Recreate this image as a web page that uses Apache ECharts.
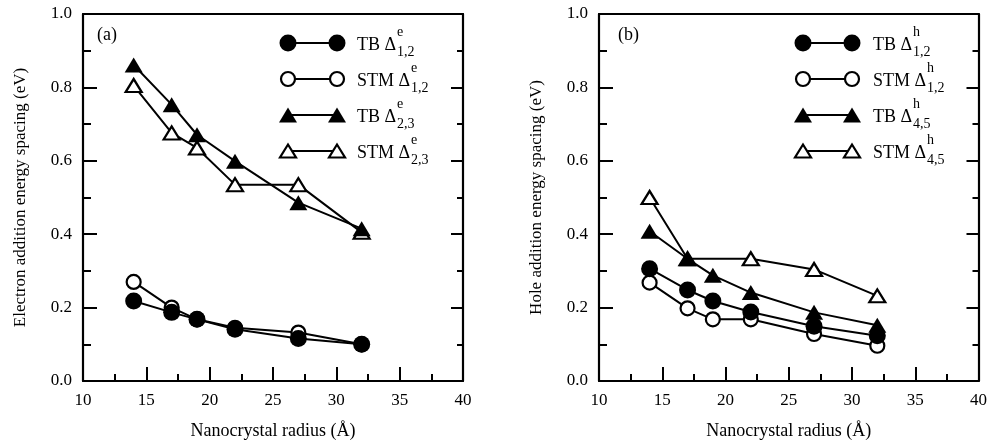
<!DOCTYPE html>
<html><head><meta charset="utf-8">
<script src="https://cdn.jsdelivr.net/npm/echarts@6/dist/echarts.min.js"></script>
<style>html,body{margin:0;padding:0;background:#fff}#c{width:990px;height:445px}</style>
</head><body><div id="c"></div>
<script>
// ---- data ----
const radii = [14, 17, 19, 22, 27, 32];
const tbE12  = [0.218, 0.187, 0.168, 0.141, 0.116, 0.100];
const stmE12 = [0.270, 0.200, 0.168, 0.145, 0.132, 0.100];
const tbE23  = [0.861, 0.753, 0.671, 0.599, 0.486, 0.415];
const stmE23 = [0.805, 0.676, 0.635, 0.535, 0.535, 0.405];
const tbH12  = [0.306, 0.248, 0.218, 0.188, 0.149, 0.123];
const stmH12 = [0.268, 0.198, 0.168, 0.168, 0.128, 0.096];
const tbH45  = [0.408, 0.333, 0.288, 0.241, 0.187, 0.152];
const stmH45 = [0.500, 0.333, null, 0.333, 0.304, 0.232];
const xTickLabels = ['10', '15', '20', '25', '30', '35', '40'];
const yTickLabels = ['0.0', '0.2', '0.4', '0.6', '0.8', '1.0'];
const xName = 'Nanocrystal radius (Å)';
const yNameA = 'Electron addition energy spacing (eV)';
const yNameB = 'Hole addition energy spacing (eV)';
const panelLabels = ['(a)', '(b)'];
const legendA = [['TB Δ', 'e', '1,2'], ['STM Δ', 'e', '1,2'], ['TB Δ', 'e', '2,3'], ['STM Δ', 'e', '2,3']];
const legendB = [['TB Δ', 'h', '1,2'], ['STM Δ', 'h', '1,2'], ['TB Δ', 'h', '4,5'], ['STM Δ', 'h', '4,5']];

// ---- chart ----
const FONT = '"Liberation Serif", "Times New Roman", serif';
const chart = echarts.init(document.getElementById('c'), null, {renderer: 'canvas'});
const pairs = arr => radii.map((r, i) => [r, arr[i]]);

function xAxes(gi) {
  return [{
    gridIndex: gi, type: 'value', min: 10, max: 40, interval: 5, position: 'bottom',
    name: xName, nameLocation: 'middle', nameGap: 41,
    nameTextStyle: {fontFamily: FONT, fontSize: 18, color: '#000'},
    axisLine: {show: true, onZero: false, lineStyle: {color: '#000', width: 2.2}},
    axisTick: {show: true, inside: true, length: 14, lineStyle: {color: '#000', width: 2}},
    minorTick: {show: true, splitNumber: 2, length: 7, lineStyle: {color: '#000', width: 2}},
    splitLine: {show: false},
    axisLabel: {margin: 11, fontFamily: FONT, fontSize: 17, color: '#000',
      formatter: v => xTickLabels[xTickLabels.indexOf(String(v))] || ''}
  }, {
    gridIndex: gi, type: 'value', min: 10, max: 40, interval: 5, position: 'top',
    axisLine: {show: true, onZero: false, lineStyle: {color: '#000', width: 2.2}},
    axisTick: {show: false}, axisLabel: {show: false}, splitLine: {show: false}
  }];
}
function yAxes(gi, name) {
  return [{
    gridIndex: gi, type: 'value', min: 0, max: 1, interval: 0.2, position: 'left',
    name: name, nameLocation: 'middle', nameGap: 54,
    nameTextStyle: {fontFamily: FONT, fontSize: 17, color: '#000'},
    axisLine: {show: true, onZero: false, lineStyle: {color: '#000', width: 2.2}},
    axisTick: {show: true, inside: true, length: 14, lineStyle: {color: '#000', width: 2}},
    minorTick: {show: true, splitNumber: 2, length: 8, lineStyle: {color: '#000', width: 2}},
    splitLine: {show: false},
    axisLabel: {margin: 11, fontFamily: FONT, fontSize: 17, color: '#000',
      formatter: v => yTickLabels[Math.round(v * 5)]}
  }, {
    gridIndex: gi, type: 'value', min: 0, max: 1, interval: 0.2, position: 'right',
    axisLine: {show: true, onZero: false, lineStyle: {color: '#000', width: 2.2}},
    axisTick: {show: true, inside: true, length: 12, lineStyle: {color: '#000', width: 2}},
    minorTick: {show: true, splitNumber: 2, length: 6, lineStyle: {color: '#000', width: 2}},
    splitLine: {show: false}, axisLabel: {show: false}
  }];
}

function ser(gi, arr, sym, filled) {
  const tri = sym === 'triangle';
  return {
    type: 'line', xAxisIndex: gi * 2, yAxisIndex: gi * 2, data: pairs(arr),
    connectNulls: true, symbol: sym,
    symbolSize: tri ? (filled ? [18, 15] : [16, 13]) : (filled ? 17 : 14),
    showAllSymbol: true, silent: true, animation: false,
    lineStyle: {color: '#000', width: 2},
    itemStyle: filled ? {color: '#000', borderWidth: 0}
                      : {color: '#fff', borderColor: '#000', borderWidth: 2.2},
    z: filled ? 3 : 2
  };
}

// legend drawn as graphics
const mctx = document.createElement('canvas').getContext('2d');
function tw(t, size) { mctx.font = size + 'px ' + FONT; return mctx.measureText(t).width; }
function legendGraphics(entries, x1, x2, tx, rows, px, py, label) {
  const els = [];
  const styles = [['circle', true], ['circle', false], ['triangle', true], ['triangle', false]];
  entries.forEach((e, i) => {
    const y = rows[i];
    const [sym, filled] = styles[i];
    els.push({type: 'line', shape: {x1: x1, y1: y, x2: x2, y2: y}, style: {stroke: '#000', lineWidth: 2}, z: 10});
    [x1, x2].forEach(x => {
      if (sym === 'circle') {
        els.push({type: 'circle', shape: {cx: x, cy: y, r: filled ? 8.5 : 7},
          style: filled ? {fill: '#000'} : {fill: '#fff', stroke: '#000', lineWidth: 2.2}, z: 11});
      } else {
        const h = filled ? 7.5 : 6.5, w = filled ? 9 : 8;
        els.push({type: 'polygon', shape: {points: [[x, y - h], [x + w, y + h], [x - w, y + h]]},
          style: filled ? {fill: '#000'} : {fill: '#fff', stroke: '#000', lineWidth: 2.2}, z: 11});
      }
    });
    const mw = tw(e[0], 18);
    els.push({type: 'text', x: tx, y: y + 2, style: {text: e[0], font: '18px ' + FONT, fill: '#000', verticalAlign: 'middle'}, z: 11});
    els.push({type: 'text', x: tx + mw + 1, y: y - 11, style: {text: e[1], font: '14px ' + FONT, fill: '#000', verticalAlign: 'middle'}, z: 11});
    els.push({type: 'text', x: tx + mw + 1, y: y + 9, style: {text: e[2], font: '14px ' + FONT, fill: '#000', verticalAlign: 'middle'}, z: 11});
  });
  els.push({type: 'text', x: px, y: py, style: {text: label, font: '18px ' + FONT, fill: '#000', verticalAlign: 'middle'}, z: 11});
  return els;
}
const rows = [43, 79, 115, 151];

chart.setOption({
  animation: false,
  backgroundColor: '#fff',
  grid: [
    {left: 83, top: 14, width: 380, height: 368, containLabel: false},
    {left: 599, top: 14, width: 381, height: 368, containLabel: false}
  ],
  xAxis: [...xAxes(0), ...xAxes(1)],
  yAxis: [...yAxes(0, yNameA), ...yAxes(1, yNameB)],
  series: [
    ser(0, stmE12, 'circle', false), ser(0, stmE23, 'triangle', false),
    ser(0, tbE12, 'circle', true), ser(0, tbE23, 'triangle', true),
    ser(1, stmH12, 'circle', false), ser(1, stmH45, 'triangle', false),
    ser(1, tbH12, 'circle', true), ser(1, tbH45, 'triangle', true)
  ],
  graphic: [
    ...legendGraphics(legendA, 288, 337, 357, rows, 97, 35, panelLabels[0]),
    ...legendGraphics(legendB, 803, 852, 873, rows, 618, 35, panelLabels[1])
  ]
});
</script></body></html>
